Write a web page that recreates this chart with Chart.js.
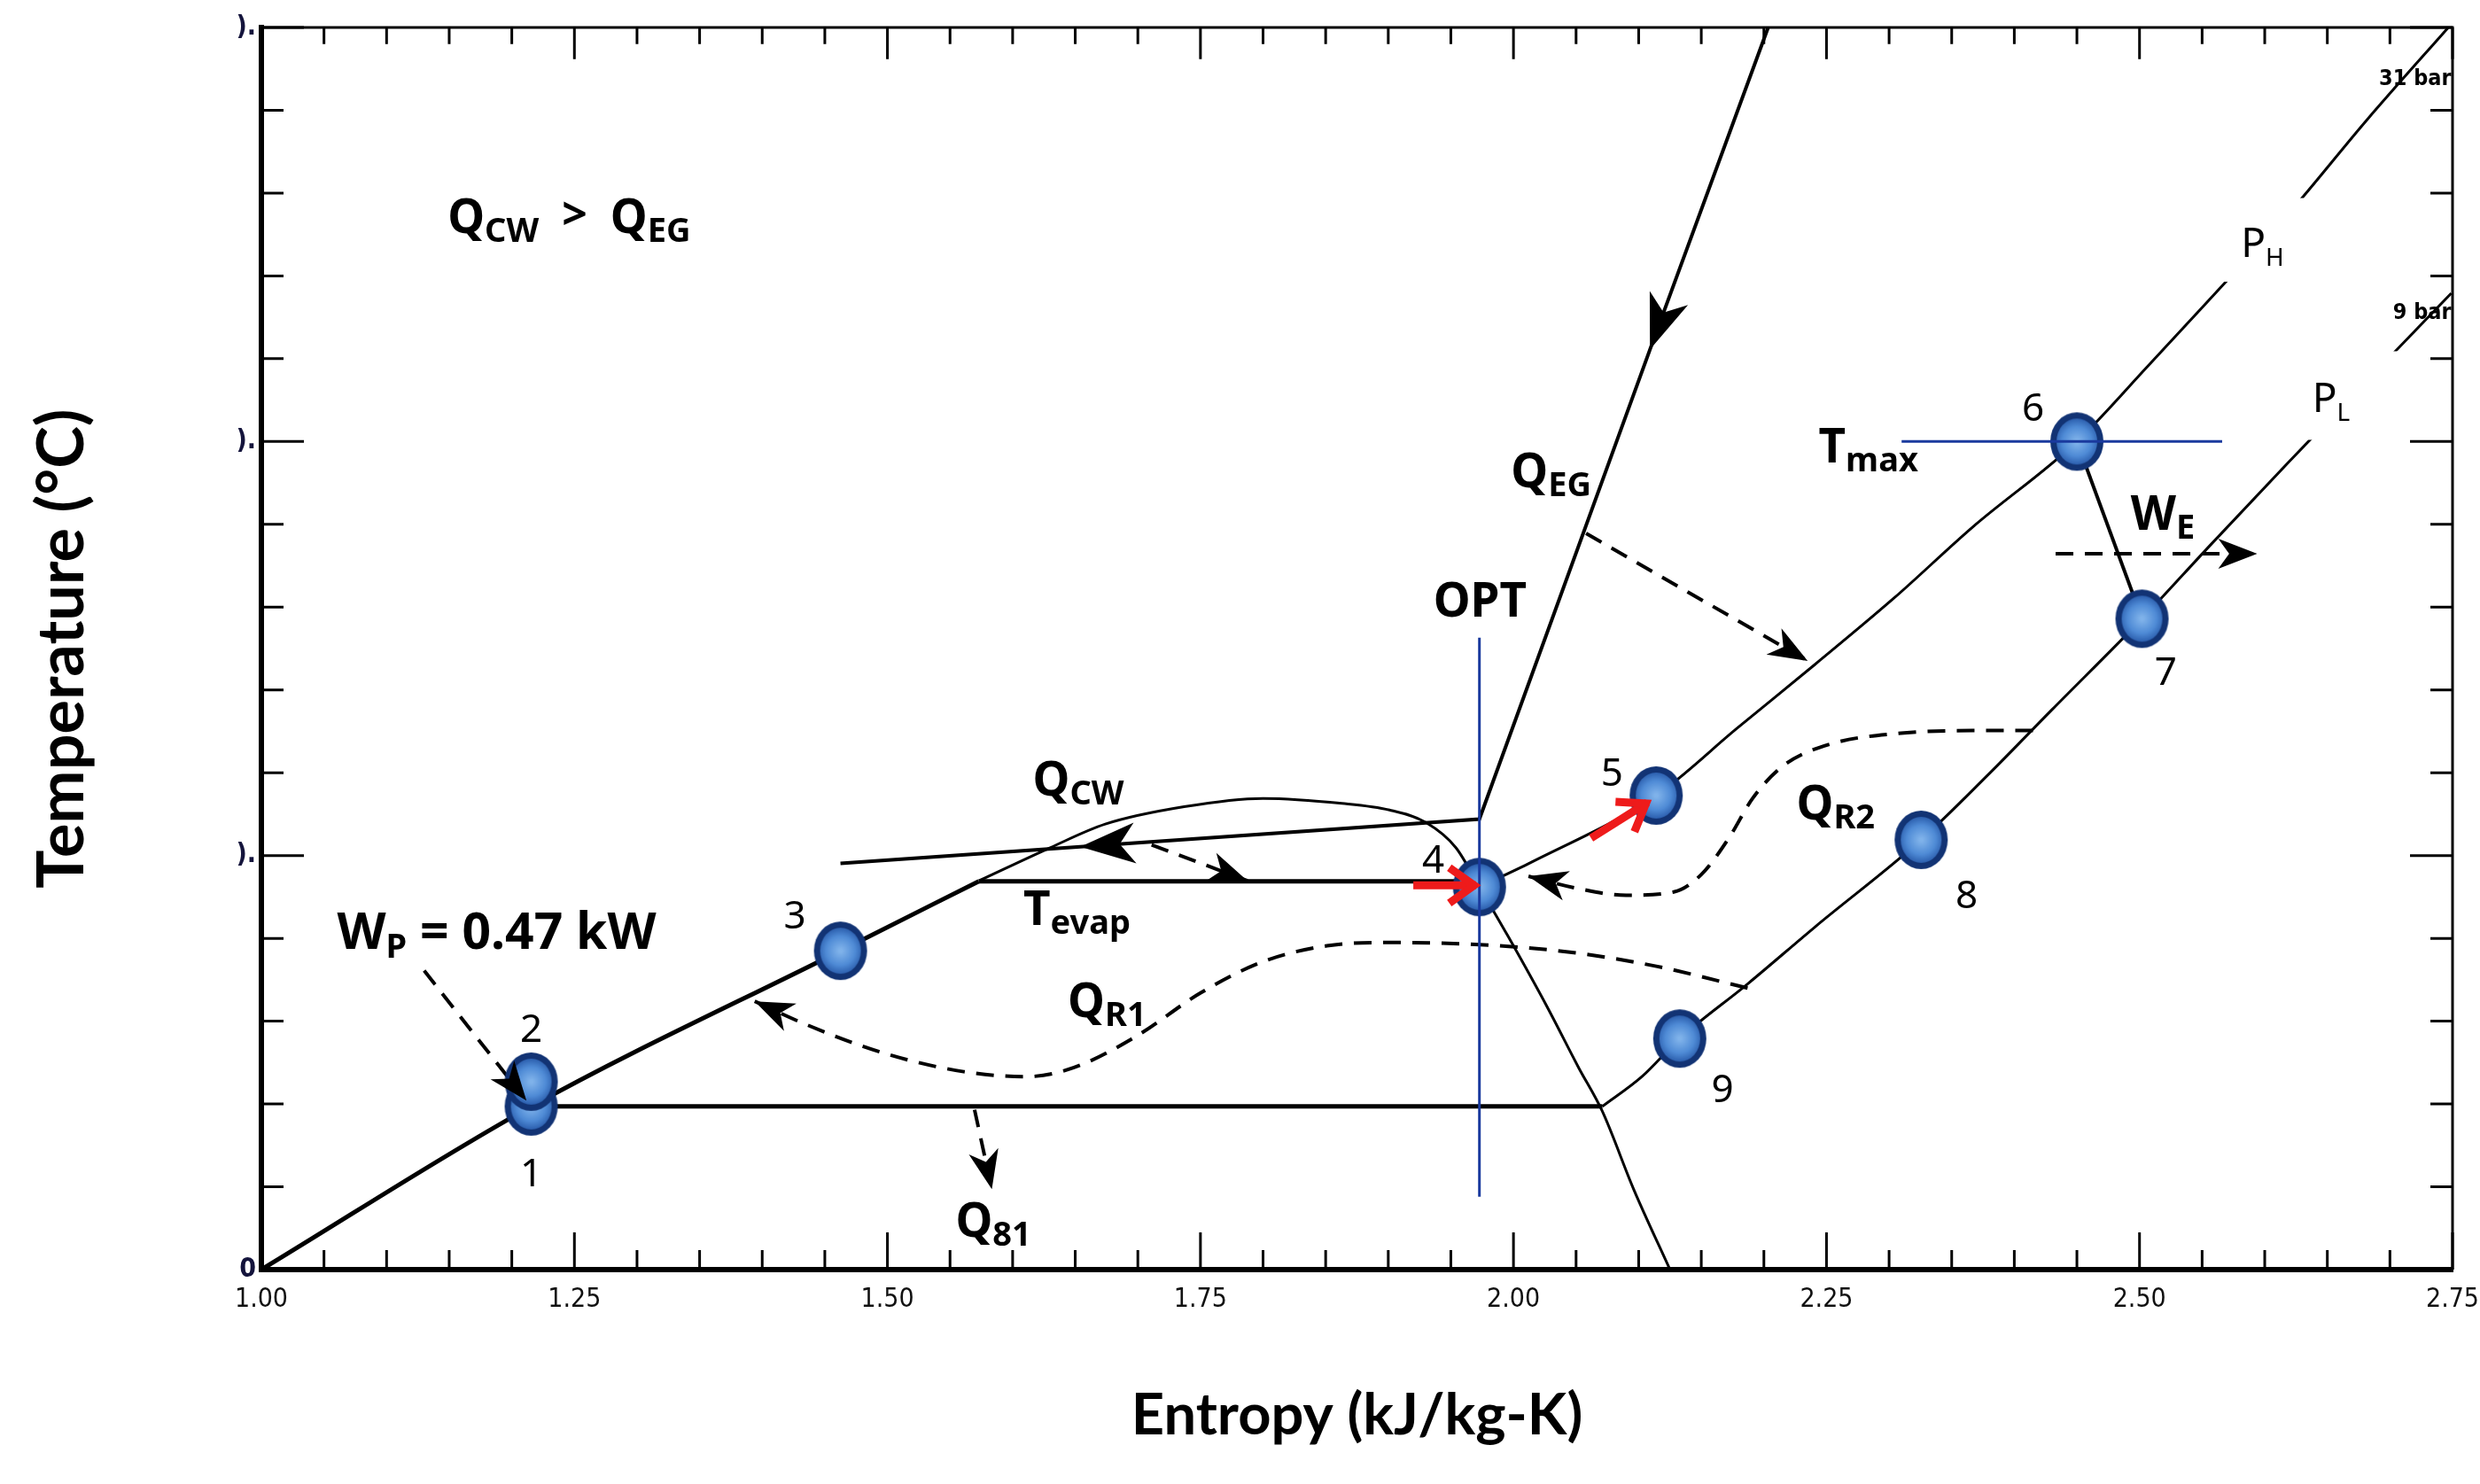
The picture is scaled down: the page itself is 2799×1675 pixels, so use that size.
<!DOCTYPE html>
<html>
<head>
<meta charset="utf-8">
<title>T-s diagram</title>
<script src="https://cdn.jsdelivr.net/npm/chart.js@4.4.0/dist/chart.umd.min.js"></script>
<style>
    html, body { margin: 0; padding: 0; background: #fff; }
    canvas { display: block; }
</style>
</head>
<body>
<canvas id="tsChart" width="2799" height="1675"></canvas>
<script>
// Ejes
const sMin = 1.00, sMax = 2.75, sMajor = 0.25, sStep = 0.05;
const tMin = 0, tMax = 150, tMajor = 50, tStep = 10;

// Puntos de estado 1..9
const stateNames = ['1', '2', '3', '4', '5', '6', '7', '8', '9'];
const stateS = [1.2155, 1.2155, 1.4625, 1.9728, 2.114, 2.450, 2.502, 2.3256, 2.1328];
const stateT = [19.7, 22.7, 38.5, 46.2, 57.25, 100.0, 78.6, 51.9, 27.9];

// Línea de líquido (común a ambas isobaras)
const liquidS = [1.000, 1.2155, 1.4625, 1.573];
const liquidT = [0, 19.7, 38.5, 46.9];

// Evaporación (T_evap)
const evapS = [1.573, 1.9728];
const evapT = [46.9, 46.9];

// Isobara alta P_H (31 bar), zona sobrecalentada
const highS = [1.9728, 2.0144, 2.114, 2.178, 2.241, 2.304, 2.367, 2.450, 2.506, 2.569, 2.619, 2.682, 2.749];
const highT = [46.2, 49.2, 57.25, 65.3, 73.1, 81.1, 89.7, 100.0, 109.0, 119.3, 127.5, 138.9, 150.4];

// Isobara baja P_L (9 bar)
const condS = [1.2155, 2.071];
const condT = [19.7, 19.7];
const lowS = [2.071, 2.1026, 2.1328, 2.187, 2.241, 2.3256, 2.380, 2.430, 2.502, 2.556, 2.619, 2.682, 2.749];
const lowT = [19.7, 23.3, 27.9, 34.5, 41.4, 51.9, 59.9, 67.6, 78.6, 87.4, 97.5, 107.4, 117.9];

// Campana de saturación
const domeS = [1.573, 1.630, 1.674, 1.737, 1.800, 1.863, 1.901, 1.930, 1.954, 1.9728, 1.9955, 2.027, 2.052, 2.071, 2.096, 2.125];
const domeT = [46.95, 50.95, 53.8, 55.9, 56.9, 56.3, 55.5, 54.0, 50.95, 46.2, 40.3, 31.7, 24.4, 19.1, 9.7, 0];

// Gases de escape + agua de refrigeración
const heatS = [2.2034, 2.109, 1.9728, 1.654, 1.4625];
const heatT = [150, 111.1, 54.4, 51.05, 49.05];

// Líneas auxiliares
const optS = [1.9728, 1.9728];
const optT = [8.8, 76.3];
const tmaxS = [2.310, 2.566];
const tmaxT = [100, 100];
const expS = [2.450, 2.502];
const expT = [100, 78.6];

// Flechas discontinuas
const weS = [2.433, 2.594];
const weT = [86.45, 86.45];
const qegS = [2.058, 2.235];
const qegT = [88.9, 73.5];
const qcwS = [1.711, 1.7876];
const qcwT = [51.3, 46.95];
const q81S = [1.5696, 1.5834];
const q81T = [19.3, 9.7];
const wpS = [1.130, 1.2117];
const wpT = [36.1, 20.4];
const qr2S = [2.012, 2.052, 2.090, 2.128, 2.150, 2.172, 2.191, 2.216, 2.254, 2.304, 2.367, 2.415];
const qr2T = [47.5, 46.0, 45.2, 45.6, 47.7, 52.1, 56.9, 60.9, 63.5, 64.7, 65.1, 65.1];
const qr1S = [1.394, 1.435, 1.498, 1.561, 1.611, 1.649, 1.699, 1.750, 1.800, 1.851, 1.901, 1.989, 2.052, 2.115, 2.187];
const qr1T = [32.4, 29.6, 26.1, 23.9, 23.3, 24.4, 28.2, 33.4, 37.2, 39.1, 39.5, 39.1, 38.2, 36.6, 34.0];

// Flechas rojas
const red4S = [1.920, 1.970];
const red4T = [46.4, 46.4];
const red5S = [2.062, 2.107];
const red5T = [52.1, 56.4];

function pts(xs, ys) {
    return xs.map((x, i) => ({ x: x, y: ys[i] }));
}

/**
 * Marcador azul (elipse con degradado)
 */
function makeMarker() {
    const c = document.createElement('canvas');
    c.width = 62;
    c.height = 68;
    const g = c.getContext('2d');
    g.beginPath();
    g.ellipse(31, 34, 30, 33, 0, 0, Math.PI * 2);
    g.fillStyle = '#123374';
    g.fill();
    const grad = g.createRadialGradient(31, 34, 2, 31, 34, 26);
    grad.addColorStop(0, '#7fb2ea');
    grad.addColorStop(0.6, '#4f8bd6');
    grad.addColorStop(1, '#2c5fae');
    g.beginPath();
    g.ellipse(31, 34, 23, 26, 0, 0, Math.PI * 2);
    g.fillStyle = grad;
    g.fill();
    return c;
}

function lineSet(xs, ys, extra) {
    return Object.assign({
        data: pts(xs, ys),
        showLine: true,
        borderColor: '#000',
        borderWidth: 3,
        pointRadius: 0,
        fill: false,
        order: 10
    }, extra || {});
}

const curve = { cubicInterpolationMode: 'monotone' };
const dashed = { borderDash: [20, 13], borderWidth: 4, arrowAt: [-1], arrowLen: 44, arrowWid: 34 };

const datasets = [
    lineSet(optS, optT, { borderColor: '#1a3a9e', borderWidth: 3, order: 2 }),
    lineSet(tmaxS, tmaxT, { borderColor: '#1a3a9e', borderWidth: 3, order: 2 }),
    lineSet(red4S, red4T, { borderColor: '#ee1b1b', borderWidth: 9, order: 1, arrowAt: [-1], arrowLen: 30, arrowWid: 40, arrowOpen: true }),
    lineSet(red5S, red5T, { borderColor: '#ee1b1b', borderWidth: 9, order: 1, arrowAt: [-1], arrowLen: 30, arrowWid: 40, arrowOpen: true }),
    {
        data: pts(stateS, stateT),
        showLine: false,
        pointStyle: makeMarker(),
        pointRadius: 30,
        order: 5
    },
    lineSet(liquidS, liquidT, Object.assign({ borderWidth: 5 }, curve)),
    lineSet(evapS, evapT, { borderWidth: 5 }),
    lineSet(highS, highT, curve),
    lineSet(condS, condT, { borderWidth: 5 }),
    lineSet(lowS, lowT, curve),
    lineSet(domeS, domeT, curve),
    lineSet(heatS, heatT, { borderWidth: 4, arrowAt: [1, 3], arrowLen: 62, arrowWid: 46 }),
    lineSet(expS, expT, { borderWidth: 4 }),
    lineSet(weS, weT, dashed),
    lineSet(qegS, qegT, dashed),
    lineSet(qcwS, qcwT, dashed),
    lineSet(q81S, q81T, dashed),
    lineSet(wpS, wpT, dashed),
    lineSet(qr2S, qr2T, Object.assign({}, dashed, curve, { arrowAt: [0] })),
    lineSet(qr1S, qr1T, Object.assign({}, dashed, curve, { arrowAt: [0] }))
];

// Textos (posición en coordenadas de datos: s, T)
const F = '"Noto Sans", "Open Sans", sans-serif';
const styles = {
    m: { font: 'bold 53px ' + F, dy: 0 },
    M: { font: 'bold 57px ' + F, dy: 0 },
    s: { font: 'bold 38px ' + F, dy: 10 },
    g: { font: 'bold 50px ' + F, dy: -4 },
    p: { font: '46px ' + F, dy: 0 },
    ps: { font: '28px ' + F, dy: 10 },
    d: { font: '44px ' + F, dy: 0 },
    tiny: { font: 'bold 25px "DejaVu Sans Condensed", sans-serif', dy: 0 }
};
const notes = [
    { s: 1.1487, t: 125.2, parts: [['Q', 'm'], ['CW', 's'], ['  >  ', 'g'], ['Q', 'm'], ['EG', 's']] },
    { s: 1.0605, t: 38.74, parts: [['W', 'M'], ['P', 's'], [' = 0.47 kW', 'M']] },
    { s: 1.616, t: 57.25, parts: [['Q', 'm'], ['CW', 's']] },
    { s: 1.6086, t: 41.6, parts: [['T', 'm'], ['evap', 's']] },
    { s: 1.644, t: 30.5, parts: [['Q', 'm'], ['R1', 's']] },
    { s: 1.5544, t: 4.0, parts: [['Q', 'm'], ['81', 's']] },
    { s: 1.998, t: 94.5, parts: [['Q', 'm'], ['EG', 's']] },
    { s: 1.936, t: 78.8, parts: [['OPT', 'm']] },
    { s: 2.226, t: 54.4, parts: [['Q', 'm'], ['R2', 's']] },
    { s: 2.2437, t: 97.5, parts: [['T', 'm'], ['max', 's']] },
    { s: 2.493, t: 89.3, parts: [['W', 'm'], ['E', 's']] },
    { s: 2.581, t: 122.3, parts: [['P', 'p'], ['H', 'ps']] },
    { s: 2.638, t: 103.6, parts: [['P', 'p'], ['L', 'ps']] },
    { s: 2.749, t: 143.0, parts: [['31 bar', 'tiny']], align: 'right' },
    { s: 2.749, t: 114.8, parts: [['9 bar', 'tiny']], align: 'right' }
];
const numberS = [1.2155, 1.2155, 1.426, 1.936, 2.0786, 2.415, 2.521, 2.362, 2.167];
const numberT = [10.1, 27.5, 41.2, 47.9, 58.4, 102.5, 70.6, 43.7, 20.2];

// Recuadros blancos detrás de P_H y P_L
const masks = [
    { s0: 2.4995, s1: 2.697, t0: 119.3, t1: 129.4 },
    { s0: 2.571, s1: 2.716, t0: 100.2, t1: 110.9 }
];

function drawArrowHead(ctx, tip, from, len, wid, color, open, lw) {
    const a = Math.atan2(tip.y - from.y, tip.x - from.x);
    ctx.save();
    ctx.translate(tip.x, tip.y);
    ctx.rotate(a);
    if (open) {
        ctx.strokeStyle = color;
        ctx.lineWidth = lw;
        ctx.lineCap = 'butt';
        ctx.lineJoin = 'miter';
        ctx.beginPath();
        ctx.moveTo(-len, wid / 2);
        ctx.lineTo(-2, 0);
        ctx.lineTo(-len, -wid / 2);
        ctx.stroke();
    } else {
        ctx.fillStyle = color;
        ctx.beginPath();
        ctx.moveTo(0, 0);
        ctx.lineTo(-len, wid / 2);
        ctx.lineTo(-len * 0.72, 0);
        ctx.lineTo(-len, -wid / 2);
        ctx.closePath();
        ctx.fill();
    }
    ctx.restore();
}

function drawRich(ctx, x, y, parts, align) {
    let total = 0;
    parts.forEach(p => {
        ctx.font = styles[p[1]].font;
        total += ctx.measureText(p[0]).width;
    });
    let cx = x;
    if (align === 'right') cx = x - total;
    if (align === 'center') cx = x - total / 2;
    ctx.textAlign = 'left';
    ctx.textBaseline = 'alphabetic';
    parts.forEach(p => {
        const st = styles[p[1]];
        ctx.font = st.font;
        ctx.fillText(p[0], cx, y + st.dy);
        cx += ctx.measureText(p[0]).width;
    });
}

// Marco con marcas hacia dentro
const framePlugin = {
    id: 'frame',
    afterDatasetsDraw(chart) {
        const { ctx, chartArea: a, scales: { x, y } } = chart;
        ctx.save();
        ctx.strokeStyle = '#000';
        ctx.lineWidth = 3;
        ctx.beginPath();
        ctx.moveTo(a.left, a.top);
        ctx.lineTo(a.right, a.top);
        ctx.lineTo(a.right, a.bottom);
        ctx.stroke();
        x.ticks.forEach(t => {
            const px = x.getPixelForValue(t.value);
            const major = Math.abs(t.value / sMajor - Math.round(t.value / sMajor)) < 1e-6;
            const len = major ? 42 : 22;
            ctx.beginPath();
            ctx.moveTo(px, a.bottom);
            ctx.lineTo(px, a.bottom - len);
            ctx.moveTo(px, a.top);
            ctx.lineTo(px, a.top + len * 0.85);
            ctx.stroke();
        });
        y.ticks.forEach(t => {
            const py = y.getPixelForValue(t.value);
            const major = t.value % tMajor === 0;
            const len = major ? 48 : 25;
            ctx.beginPath();
            ctx.moveTo(a.left, py);
            ctx.lineTo(a.left + len, py);
            ctx.moveTo(a.right, py);
            ctx.lineTo(a.right - len, py);
            ctx.stroke();
        });
        ctx.restore();
    }
};

// Flechas y textos
const overlayPlugin = {
    id: 'overlay',
    afterDatasetsDraw(chart) {
        const { ctx, scales: { x, y } } = chart;
        ctx.save();
        chart.data.datasets.forEach((ds, i) => {
            if (!ds.arrowAt) return;
            const els = chart.getDatasetMeta(i).data;
            ds.arrowAt.forEach(k => {
                const idx = k < 0 ? els.length + k : k;
                const tip = els[idx];
                const from = idx === 0 ? els[1] : els[idx - 1];
                drawArrowHead(ctx, tip, from, ds.arrowLen, ds.arrowWid, ds.borderColor, ds.arrowOpen, ds.borderWidth);
            });
        });

        ctx.fillStyle = '#fff';
        masks.forEach(m => {
            const x0 = x.getPixelForValue(m.s0), x1 = x.getPixelForValue(m.s1);
            const y0 = y.getPixelForValue(m.t1), y1 = y.getPixelForValue(m.t0);
            ctx.fillRect(x0, y0, x1 - x0, y1 - y0);
        });

        ctx.fillStyle = '#000';
        notes.forEach(n => {
            drawRich(ctx, x.getPixelForValue(n.s), y.getPixelForValue(n.t), n.parts, n.align);
        });
        stateNames.forEach((name, i) => {
            drawRich(ctx, x.getPixelForValue(numberS[i]), y.getPixelForValue(numberT[i]), [[name, 'd']], 'center');
        });
        ctx.restore();
    }
};

new Chart(document.getElementById('tsChart'), {
    type: 'scatter',
    data: { datasets: datasets },
    options: {
        responsive: false,
        animation: false,
        devicePixelRatio: 1,
        layout: { padding: { top: 30, right: 27, left: 0, bottom: 0 } },
        plugins: {
            legend: { display: false },
            tooltip: { enabled: false }
        },
        scales: {
            x: {
                type: 'linear',
                min: sMin,
                max: sMax,
                afterFit: function(scale) {
                    scale.height = 242;
                    scale.paddingLeft = 0;
                    scale.paddingRight = 0;
                },
                grid: { display: false, drawTicks: false },
                border: { display: true, color: '#000', width: 6 },
                ticks: {
                    stepSize: sStep,
                    autoSkip: false,
                    maxRotation: 0,
                    padding: 16,
                    color: '#111',
                    font: { family: '"Liberation Sans Narrow", "DejaVu Sans Condensed", sans-serif', size: 30 },
                    callback: function(v) {
                        return Math.abs(v / sMajor - Math.round(v / sMajor)) < 1e-6 ? v.toFixed(2) : '';
                    }
                },
                title: {
                    display: true,
                    text: 'Entropy (kJ/kg-K)',
                    color: '#000',
                    font: { family: 'Lato, "Noto Sans", sans-serif', size: 65, weight: 'bold' },
                    padding: { top: 0, bottom: 38 }
                }
            },
            y: {
                type: 'linear',
                min: tMin,
                max: tMax,
                afterFit: function(scale) {
                    scale.width = 295;
                    scale.paddingTop = 0;
                    scale.paddingBottom = 0;
                },
                grid: { display: false, drawTicks: false },
                border: { display: true, color: '#000', width: 6 },
                ticks: {
                    stepSize: tStep,
                    autoSkip: false,
                    padding: 6,
                    color: '#14143c',
                    font: { family: '"DejaVu Sans Condensed", sans-serif', size: 30, weight: 'bold' },
                    callback: function(v) {
                        if (v === 0) return '0';
                        return v % tMajor === 0 ? ').' : '';
                    }
                },
                title: {
                    display: true,
                    text: 'Temperature (\u00B0C)',
                    color: '#000',
                    font: { family: 'Lato, "Noto Sans", sans-serif', size: 72, weight: 'bold' },
                    padding: { top: 28, bottom: 0 }
                }
            }
        }
    },
    plugins: [framePlugin, overlayPlugin]
});
</script>
</body>
</html>
